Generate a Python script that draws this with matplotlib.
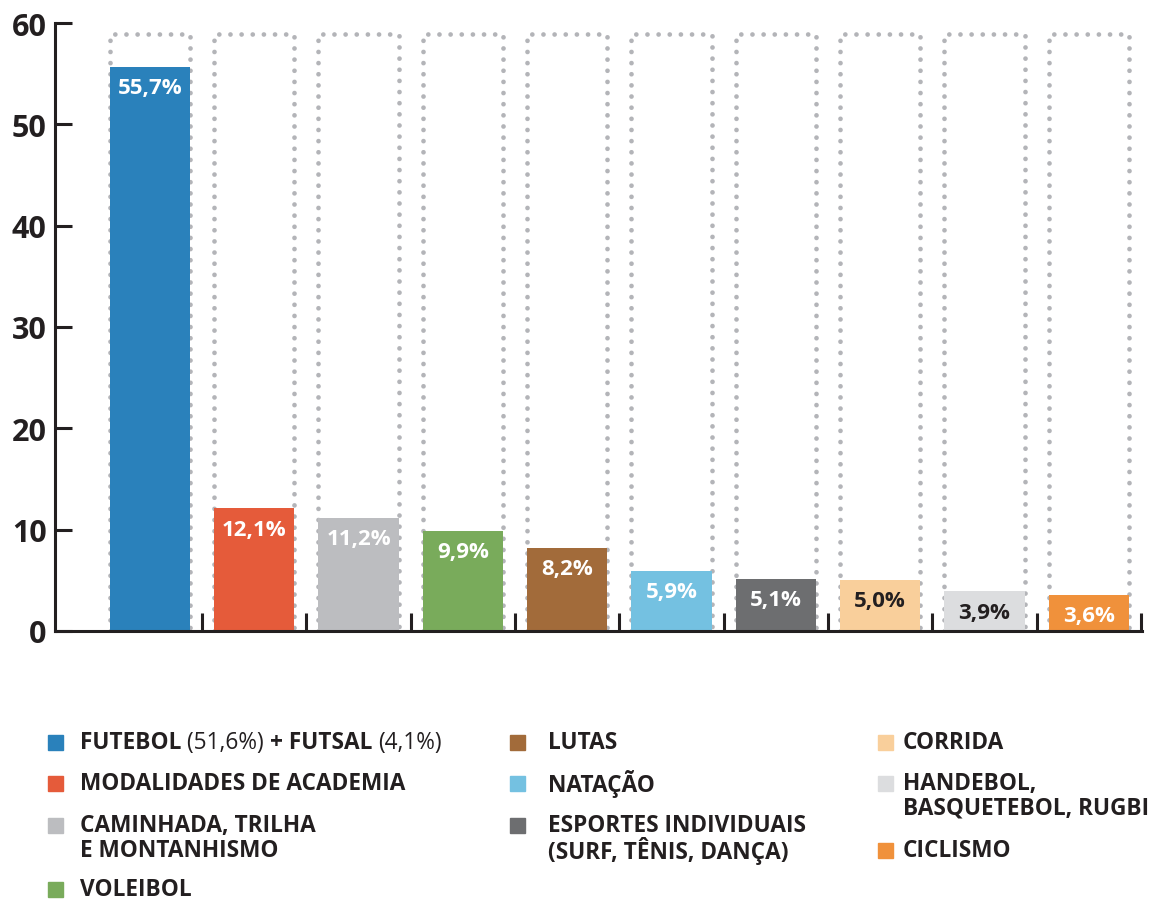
import numpy as np
import matplotlib
matplotlib.use("Agg")
import matplotlib.pyplot as plt
from matplotlib.patches import Rectangle

plt.rcParams['font.family'] = ['Open Sans', 'DejaVu Sans']

# Dados
categorias = ["FUTEBOL + FUTSAL", "MODALIDADES DE ACADEMIA", "CAMINHADA, TRILHA E MONTANHISMO",
              "VOLEIBOL", "LUTAS", "NATAÇÃO", "ESPORTES INDIVIDUAIS", "CORRIDA",
              "HANDEBOL, BASQUETEBOL, RUGBI", "CICLISMO"]
valores = [55.7, 12.1, 11.2, 9.9, 8.2, 5.9, 5.1, 5.0, 3.9, 3.6]
rotulos = ["55,7%", "12,1%", "11,2%", "9,9%", "8,2%", "5,9%", "5,1%", "5,0%", "3,9%", "3,6%"]
cores = ["#2a81bb", "#e55b3a", "#bcbdc0", "#79ab5b", "#a26b3a",
         "#74c1e1", "#6d6e70", "#f9cf9b", "#dcdddf", "#f0913b"]
cor_texto = ["white"] * 7 + ["#231f20", "#231f20", "white"]
y_ticks = [0, 10, 20, 30, 40, 50, 60]
topo_pontilhado = 58.9

# Legenda: partes de texto com peso, uma lista por linha
legenda = [
    [[("FUTEBOL ", "bold"), ("(51,6%) ", "normal"), ("+ FUTSAL ", "bold"), ("(4,1%)", "normal")]],
    [[("MODALIDADES DE ACADEMIA", "bold")]],
    [[("CAMINHADA, TRILHA", "bold")], [("E MONTANHISMO", "bold")]],
    [[("VOLEIBOL", "bold")]],
    [[("LUTAS", "bold")]],
    [[("NATAÇÃO", "bold")]],
    [[("ESPORTES INDIVIDUAIS", "bold")], [("(SURF, TÊNIS, DANÇA)", "bold")]],
    [[("CORRIDA", "bold")]],
    [[("HANDEBOL,", "bold")], [("BASQUETEBOL, RUGBI", "bold")]],
    [[("CICLISMO", "bold")]],
]

W, H = 1159, 903
fig = plt.figure(figsize=(W / 100, H / 100), dpi=100)
ax = fig.add_axes([55 / W, 1 - 632 / H, (1142 - 55) / W, (632 - 24) / H])

escuro = "#231f20"
x = np.arange(len(valores))
largura = 0.77

# contornos pontilhados
for i in x:
    xs = [i - largura / 2, i - largura / 2, i + largura / 2, i + largura / 2]
    ys = [0, topo_pontilhado, topo_pontilhado, 0]
    ax.plot(xs, ys, color="#b3b4b8", lw=3.4, linestyle=(0, (0.01, 2.35)),
            dash_capstyle="round", zorder=1)

ax.bar(x, valores, width=largura, color=cores, zorder=2)

for i, v in enumerate(valores):
    ax.text(i, v - 1.0, rotulos[i], ha="center", va="top", color=cor_texto[i],
            fontsize=16, fontweight="bold", zorder=3)

# eixos
ax.set_xlim(-0.911, 9.51)
ax.set_ylim(0, 60)
for s in ["top", "right"]:
    ax.spines[s].set_visible(False)
for s in ["left", "bottom"]:
    ax.spines[s].set_linewidth(2.2)
    ax.spines[s].set_color(escuro)
ax.spines["bottom"].set_zorder(4)
ax.set_xticks([])
ax.set_yticks(y_ticks)
ax.set_yticklabels([str(t) for t in y_ticks], fontsize=22, fontweight="bold", color=escuro)
ax.tick_params(axis="y", direction="in", length=12, width=2.2, color=escuro, pad=6)

# marcas entre barras
for i in x:
    ax.plot([i + 0.5, i + 0.5], [0, 1.75], color=escuro, lw=2.2, zorder=4,
            solid_capstyle="butt", clip_on=False)

# legenda
fig.canvas.draw()
renderer = fig.canvas.get_renderer()
colunas = [(48, 80), (510, 548), (878, 903)]
linhas_y = [
    [743, 784, 826, 890],
    [743, 784, 826],
    [743, 784, 851],
]
alt_linha = 25
fs_leg = 16.3
k = 0
for c in range(len(colunas)):
    sq_x, tx = colunas[c]
    for y0 in linhas_y[c]:
        item = legenda[k]
        fig.patches.append(Rectangle((sq_x / W, 1 - (y0 + 8) / H), 15 / W, 15 / H,
                                     transform=fig.transFigure, color=cores[k], figure=fig))
        for j, linha in enumerate(item):
            cx = tx
            yy = y0 + j * alt_linha
            for texto, peso in linha:
                t = fig.text(cx / W, 1 - yy / H, texto, fontsize=fs_leg, fontweight=peso,
                             color=escuro, va="center", ha="left")
                cx += t.get_window_extent(renderer).width
        k += 1

fig.savefig("out.png", dpi=100)
